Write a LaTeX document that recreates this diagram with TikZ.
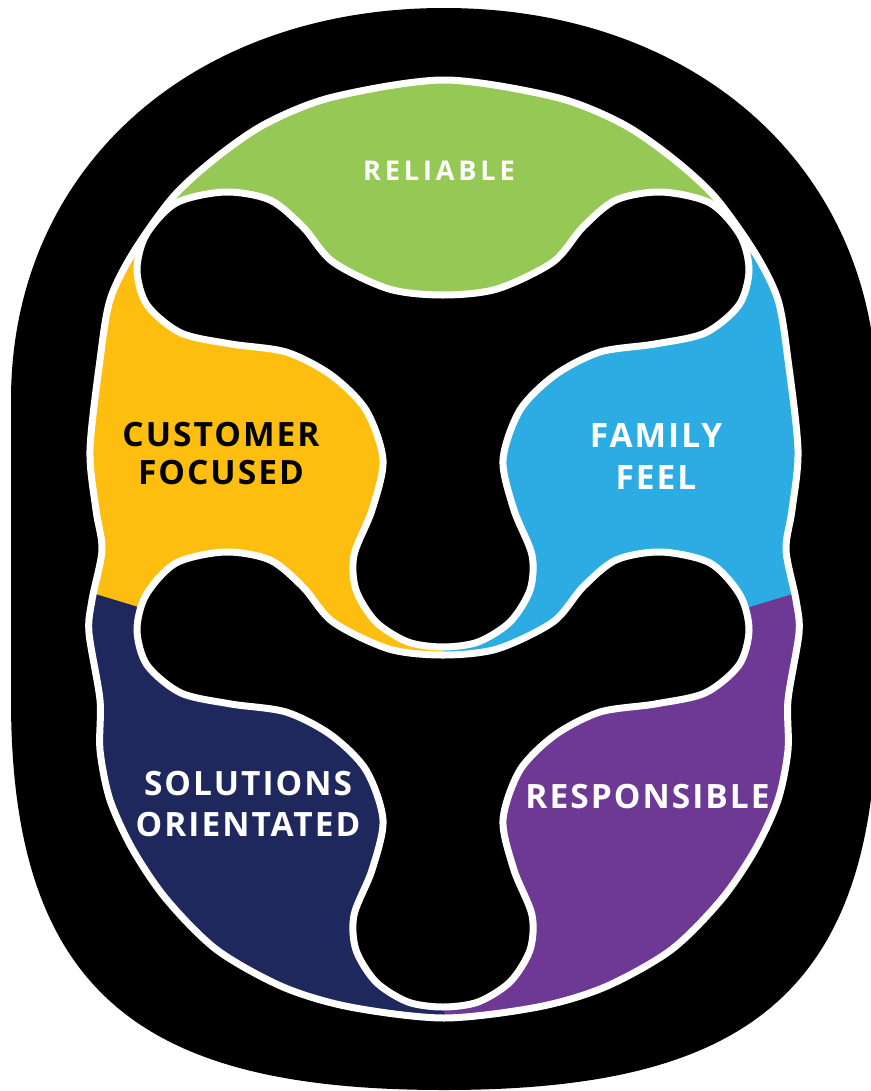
\documentclass[tikz,border=0pt]{standalone}
\usepackage{fontspec}
\newfontfamily\lblfont[LetterSpace=6]{Open Sans}
\newfontfamily\toplblfont[LetterSpace=14]{Open Sans}
\definecolor{cReliable}{HTML}{96C856}
\definecolor{cCustomer}{HTML}{FDBE10}
\definecolor{cFamily}{HTML}{2CACE2}
\definecolor{cSolutions}{HTML}{1F285C}
\definecolor{cResponsible}{HTML}{6E3994}
\tikzset{
  blob/.style={fill=black, draw=white, line width=0.21cm},
  rim/.style={draw=white, line width=0.21cm},
  word/.style={inner sep=0pt, align=center, font=\lblfont\bfseries\fontsize{28.6}{31.8}\selectfont}
}
\begin{document}
\begin{tikzpicture}[x=0.03cm, y=-0.03cm]
\useasboundingbox (0,0) rectangle (871,1091);
\fill[white] (0,0) rectangle (871,1091);
\clip (0,0) rectangle (871,1091);
% outer ring
\fill[black] (11,400) .. controls (11,170) and (190,8) .. (444,8)
  .. controls (698,8) and (877,170) .. (877,400) -- (877,700)
  .. controls (877,1000) and (738,1090) .. (444,1090)
  .. controls (150,1090) and (11,1000) .. (11,700) -- cycle;
\path[save path=\innershape] plot[smooth cycle] coordinates {
  (444,80) (555,97) (621,123) (671,157) (715,197) (755,253) (778,300) (788,360)
  (798,450) (792,510) (786,550) (796,600) (799,633) (788,700) (788,750) (778,800)
  (755,850) (721,900) (671,950) (605,987) (538,1007) (444,1018) (350,1007) (283,987)
  (217,950) (167,900) (133,850) (110,800) (100,750) (100,700) (89,633) (92,600)
  (102,550) (96,510) (90,450) (100,360) (110,300) (133,253) (173,197) (217,157)
  (267,123) (333,97)};
\begin{scope}
  \clip[use path=\innershape];
  \fill[cCustomer] (0,255) rectangle (444,720);
  \fill[cFamily] (444,255) rectangle (871,720);
  \fill[cReliable] (0,0) -- (871,0) -- (871,255) -- (650,255) -- (650,320)
    -- (240,320) -- (240,255) -- (0,255) -- cycle;
  \fill[cSolutions] (0,565) -- (444,700) -- (444,1091) -- (0,1091) -- cycle;
  \fill[cResponsible] (888,565) -- (444,700) -- (444,1091) -- (888,1091) -- cycle;
  \foreach \dy in {360,0}
    \draw[blob, shift={(0,\dy)}] plot[smooth cycle] coordinates {
      (225,192) (270,200) (303,227) (333,262) (389,289) (443,295) (497,289) (553,262)
      (583,227) (616,200) (661,192) (710,203) (740,235) (749,270) (739,305) (705,333)
      (655,344) (600,352) (555,375) (520,410) (503,460) (514,510) (532,555) (530,590)
      (510,622) (478,642) (443,647) (408,642) (376,622) (356,590) (354,555) (372,510)
      (383,460) (366,410) (331,375) (286,352) (231,344) (181,333) (147,305) (137,270)
      (146,235) (176,203)};
\end{scope}
\draw[rim, use path=\innershape];
\node[word, white, font=\toplblfont\bfseries\fontsize{23.2}{28}\selectfont] (rel) at (439,170.5) {RELIABLE};
\node[word, black] (cus) at (221,453.4) {CUSTOMER\\FOCUSED};
\node[word, white, font=\lblfont\bfseries\fontsize{28.6}{35.7}\selectfont] (fam) at (656,456.3) {FAMILY\\FEEL};
\node[word, white, font=\lblfont\bfseries\fontsize{28.6}{35.7}\selectfont] (sol) at (248,804) {SOLUTIONS\\ORIENTATED};
\node[word, white] (res) at (647.5,796.7) {RESPONSIBLE};
\end{tikzpicture}
\end{document}
